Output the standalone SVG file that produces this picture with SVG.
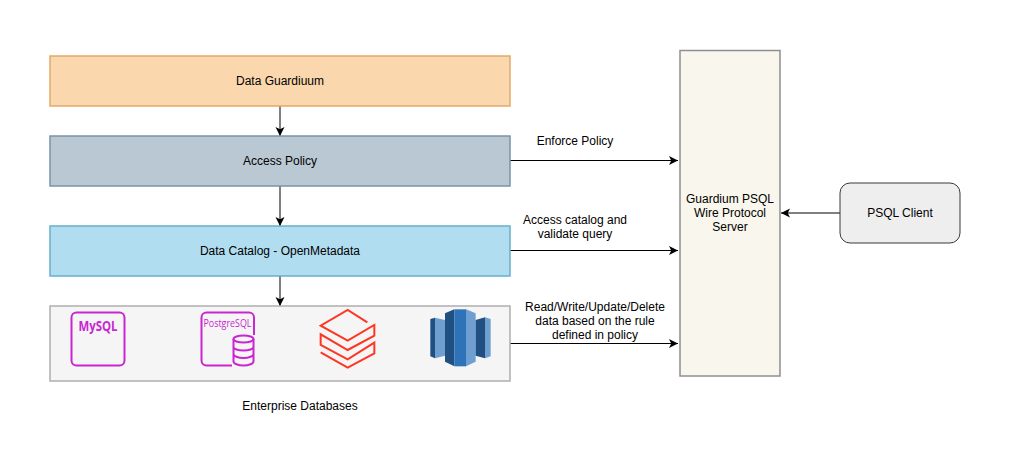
<svg xmlns="http://www.w3.org/2000/svg" width="1011" height="472" viewBox="0 0 1011 472">
<style>
text{font-family:"Liberation Sans",Arial,sans-serif;font-size:12px;fill:#000;text-anchor:middle}
.c{fill:none;stroke:#000;stroke-width:1;marker-end:url(#a)}
.b{stroke-width:1.5}
.pg{fill:none;stroke:#c926d2;stroke-width:2}
.db{fill:none;stroke:#ff3621;stroke-width:6}
</style>
<defs>
<marker id="a" markerUnits="userSpaceOnUse" markerWidth="10" markerHeight="10" refX="9" refY="5" orient="auto">
<path d="M0 .5 L9 5 L0 9.500 L2.250 5 Z" fill="#000"/>
</marker>
</defs>
<rect width="1011" height="472" fill="#fff"/>
<g id="connectors">
<path class="c" d="M280 106V136"/>
<path class="c" d="M280 186V226"/>
<path class="c" d="M280 276V306"/>
<path class="c" d="M510 160.500H678"/>
<path class="c" d="M510 250.500H678"/>
<path class="c" d="M510 343.500H678"/>
<path class="c" d="M840 213H781"/>
</g>
<g id="data-guardiuum">
<rect class="b" x="50" y="56" width="460" height="50" fill="#fad7ac" stroke="#e3a96b"/>
<text x="280" y="85">Data Guardiuum</text>
</g>
<g id="access-policy">
<rect class="b" x="50" y="136" width="460" height="50" fill="#bac8d3" stroke="#7b92a6"/>
<text x="280" y="165">Access Policy</text>
</g>
<g id="data-catalog">
<rect class="b" x="50" y="226" width="460" height="50" fill="#b1ddf0" stroke="#6aaecb"/>
<text x="280" y="255">Data Catalog - OpenMetadata</text>
</g>
<g id="enterprise-databases">
<rect class="b" x="50" y="306" width="460" height="75" fill="#f5f5f5" stroke="#aeaeae"/>
<text x="300" y="410">Enterprise Databases</text>
</g>
<g id="mysql-icon">
<rect class="pg" x="71.500" y="312.500" width="53" height="53" rx="5"/>
<text x="98" y="331" textLength="39" lengthAdjust="spacingAndGlyphs" style="font-family:'Open Sans',sans-serif;font-size:14px;font-weight:700;fill:#c926d2">MySQL</text>
</g>
<g id="postgresql-icon">
<path class="pg" d="M232 365.500H206.500a5 5 0 0 1-5-5V317.500a5 5 0 0 1 5-5H249a5 5 0 0 1 5 5V335"/>
<text x="227.500" y="327" textLength="48" lengthAdjust="spacingAndGlyphs" style="font-family:'Open Sans',sans-serif;font-size:10px;fill:#c926d2">PostgreSQL</text>
<ellipse class="pg" cx="243.500" cy="339" rx="10" ry="3.500"/>
<path class="pg" d="M233.500 339V361.500C233.500 363.500 238 365.500 243.500 365.500S253.500 363.500 253.500 361.500V339M233.500 347C233.500 349 238 350.500 243.500 350.500S253.500 349 253.500 347M233.500 354C233.500 356 238 358 243.500 358S253.500 356 253.500 354"/>
</g>
<g id="databricks-icon" transform="translate(280 295) scale(.33333)">
<path class="db" d="M262 82L203 45L122 92L203 137L283 90V122L203 165L122 118V150L203 193L283 143V175L203 218L122 172"/>
</g>
<g id="redshift-icon" transform="translate(280 295) scale(.33333)">
<path d="M451 72L465 68V190L451 184Z" fill="#205081"/>
<path d="M465 68L495 75V182L465 190Z" fill="#6f9fd0"/>
<path d="M495 55L523 43V214L495 200Z" fill="#205081"/>
<path d="M523 43H558V214H523Z" fill="#2e73b8"/>
<path d="M558 43L587 55V200L558 214Z" fill="#6f9fd0"/>
<path d="M587 75L615 67V190L587 182Z" fill="#205081"/>
<path d="M615 67L632 72V184L615 190Z" fill="#6f9fd0"/>
</g>
<g id="labels">
<text x="575" y="145">Enforce Policy</text>
<text x="575" y="224">Access catalog and</text>
<text x="575" y="238">validate query</text>
<text x="595" y="311">Read/Write/Update/Delete</text>
<text x="595" y="325">data based on the rule</text>
<text x="595" y="339">defined in policy</text>
</g>
<g id="guardium-server">
<rect x="680" y="50.500" width="100" height="325.500" fill="#f9f7ed" stroke="#8f8f8f" stroke-width="1.500"/>
<text x="730" y="203">Guardium PSQL</text>
<text x="730" y="217">Wire Protocol</text>
<text x="730" y="231">Server</text>
</g>
<g id="psql-client">
<rect x="840" y="183" width="120" height="60" rx="10" fill="#eeeeee" stroke="#36393d"/>
<text x="900" y="217">PSQL Client</text>
</g>
</svg>
